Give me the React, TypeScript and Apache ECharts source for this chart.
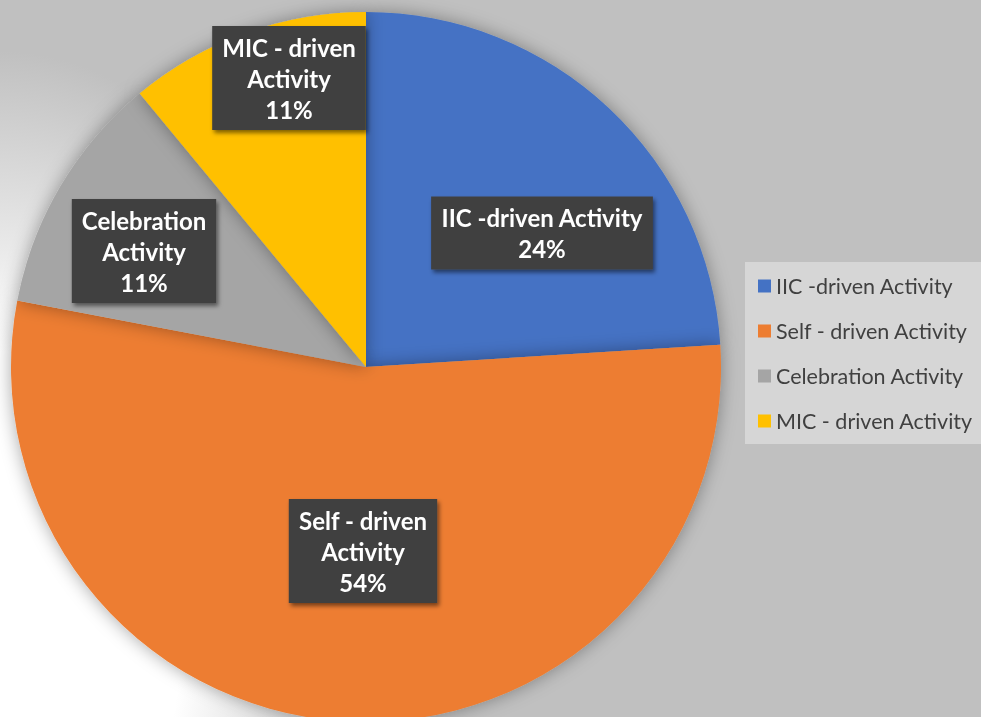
import React, { useEffect, useRef } from 'react';
import * as echarts from 'echarts';

const categories = ['IIC -driven Activity', 'Self - driven Activity', 'Celebration Activity', 'MIC - driven Activity'];
const values = [24, 54, 11, 11];
const colors = ['#4472C4', '#ED7D31', '#A5A5A5', '#FFC000'];
const wrapLabel = [false, true, true, true];
const labelCenters = [[542, 233], [363, 551], [144, 251], [289, 78]];

export default function App() {
  const ref = useRef<HTMLDivElement>(null);
  useEffect(() => {
    if (!ref.current) return;
    const chart = echarts.init(ref.current, undefined, { renderer: 'svg' });
    chart.setOption({
      animation: false,
      backgroundColor: 'transparent',
      color: colors,
      legend: {
        orient: 'vertical',
        left: 745,
        top: 262,
        padding: [13, 10, 12, 13],
        backgroundColor: '#D6D6D6',
        itemWidth: 13,
        itemHeight: 13,
        itemGap: 23,
        icon: 'rect',
        textStyle: { color: '#404040', fontSize: 21.5, fontFamily: 'Lato', lineHeight: 21, padding: [0, 0, 0, 0] },
        data: categories,
      },
      series: [
        {
          type: 'pie',
          center: [366, 367],
          radius: 355,
          startAngle: 90,
          clockwise: true,
          avoidLabelOverlap: false,
          itemStyle: { shadowBlur: 18, shadowColor: 'rgba(0,0,0,0.35)' },
          emphasis: { disabled: true },
          labelLine: { show: false },
          label: {
            show: true,
            position: 'inside',
            color: '#FFFFFF',
            fontFamily: 'Lato',
            fontWeight: 'bold',
            fontSize: 24,
            lineHeight: 31,
            align: 'center',
            backgroundColor: '#404040',
            padding: [6, 10, 5, 10],
            shadowBlur: 4,
            shadowColor: 'rgba(0,0,0,0.5)',
            shadowOffsetX: 2,
            shadowOffsetY: 3,
            formatter: (p: any) =>
              (wrapLabel[p.dataIndex] ? p.name.replace(/ Activity$/, '\nActivity') : p.name) +
              '\n' + Math.round(p.percent) + '%',
          },
          labelLayout: (p: any) => ({
            x: labelCenters[p.dataIndex][0],
            y: labelCenters[p.dataIndex][1],
            align: 'center',
            verticalAlign: 'middle',
          }),
          data: categories.map((name, i) => ({ name, value: values[i] })),
        },
      ],
    });
    return () => chart.dispose();
  }, []);
  return (
    <div
      ref={ref}
      style={{
        position: 'fixed',
        left: 0,
        top: 0,
        width: 981,
        height: 717,
        background: 'radial-gradient(ellipse 400px 640px at 0px 640px, #ffffff 0%, #ffffff 45%, #c0c0c0 92%, #c0c0c0 100%)',
      }}
    />
  );
}
